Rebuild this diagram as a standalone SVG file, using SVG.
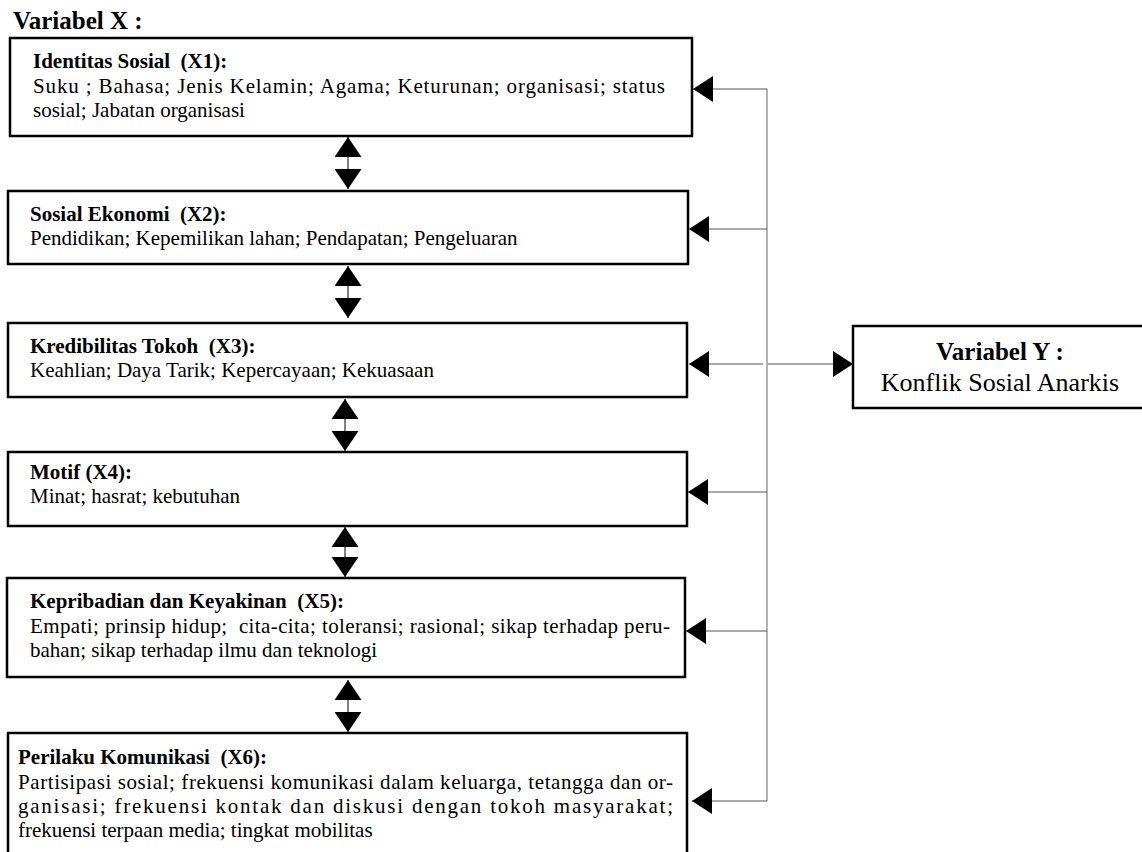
<svg xmlns="http://www.w3.org/2000/svg" width="1142" height="852" viewBox="0 0 1142 852">
<style>
text{font-family:"Liberation Serif","Times New Roman",serif;fill:#000}
.t{font-size:21px;font-weight:bold}
.b{font-size:21px}
.h{font-size:25px;font-weight:bold}
.box{fill:#fff;stroke:#000;stroke-width:2.5}
.hz{stroke:#555;stroke-width:1;fill:none}
.vt{stroke:#888;stroke-width:1.3;fill:none}
.dv{stroke:#000;stroke-width:1;fill:none}
</style>
<defs>
<marker id="ah" markerUnits="userSpaceOnUse" markerWidth="20" markerHeight="26" refX="20" refY="13" orient="auto" viewBox="0 0 20 26">
<path d="M0,0 L20,13 L0,26 Z" fill="#000"/>
</marker>
<marker id="dh" markerUnits="userSpaceOnUse" markerWidth="20" markerHeight="27" refX="20" refY="13.5" orient="auto-start-reverse" viewBox="0 0 20 27">
<path d="M0,0 L20,13.5 L0,27 Z" fill="#000"/>
</marker>
</defs>
<rect width="1142" height="852" fill="#fff"/>
<text class="h" x="13" y="29">Variabel X :</text>

<g id="x1">
<rect class="box" x="10" y="38" width="682" height="98"/>
<text class="t" x="33" y="68" xml:space="preserve">Identitas Sosial  (X1):</text>
<text class="b" x="33" y="93" textLength="632" lengthAdjust="spacing">Suku ; Bahasa; Jenis Kelamin; Agama; Keturunan; organisasi; status</text>
<text class="b" x="33" y="117">sosial; Jabatan organisasi</text>
</g>

<g id="x2">
<rect class="box" x="8" y="191" width="680" height="73"/>
<text class="t" x="30" y="221" xml:space="preserve">Sosial Ekonomi  (X2):</text>
<text class="b" x="30" y="245">Pendidikan; Kepemilikan lahan; Pendapatan; Pengeluaran</text>
</g>

<g id="x3">
<rect class="box" x="8" y="323" width="679" height="74"/>
<text class="t" x="30" y="353" xml:space="preserve">Kredibilitas Tokoh  (X3):</text>
<text class="b" x="30" y="377">Keahlian; Daya Tarik; Kepercayaan; Kekuasaan</text>
</g>

<g id="x4">
<rect class="box" x="8" y="452" width="679" height="74"/>
<text class="t" x="30" y="479">Motif (X4):</text>
<text class="b" x="30" y="503">Minat; hasrat; kebutuhan</text>
</g>

<g id="x5">
<rect class="box" x="7" y="578" width="678" height="99"/>
<text class="t" x="30" y="608" xml:space="preserve">Kepribadian dan Keyakinan  (X5):</text>
<text class="b" x="30" y="633" textLength="640" lengthAdjust="spacing" xml:space="preserve">Empati; prinsip hidup;  cita-cita; toleransi; rasional; sikap terhadap peru-</text>
<text class="b" x="30" y="657">bahan; sikap terhadap ilmu dan teknologi</text>
</g>

<g id="x6">
<rect class="box" x="8" y="733" width="679" height="130"/>
<text class="t" x="18" y="764" xml:space="preserve">Perilaku Komunikasi  (X6):</text>
<text class="b" x="18" y="789" textLength="655" lengthAdjust="spacing">Partisipasi sosial; frekuensi komunikasi dalam keluarga, tetangga dan or-</text>
<text class="b" x="18" y="813" textLength="655" lengthAdjust="spacing">ganisasi; frekuensi kontak dan diskusi dengan tokoh masyarakat;</text>
<text class="b" x="18" y="837">frekuensi terpaan media; tingkat mobilitas</text>
</g>

<g id="y">
<rect class="box" x="853" y="326" width="300" height="82"/>
<text class="h" x="1000" y="360" text-anchor="middle">Variabel Y :</text>
<text x="1000" y="391" text-anchor="middle" style="font-size:26px">Konflik Sosial Anarkis</text>
</g>

<g id="connectors">
<line class="vt" x1="767" y1="89" x2="767" y2="801"/>
<line class="hz" x1="767" y1="89" x2="693" y2="89" marker-end="url(#ah)"/>
<line class="hz" x1="767" y1="229" x2="689" y2="229" marker-end="url(#ah)"/>
<line class="hz" x1="763" y1="364" x2="689" y2="364" marker-end="url(#ah)"/>
<line class="hz" x1="768" y1="364" x2="853" y2="364" marker-end="url(#ah)"/>
<line class="hz" x1="767" y1="492" x2="688" y2="492" marker-end="url(#ah)"/>
<line class="hz" x1="767" y1="631" x2="686" y2="631" marker-end="url(#ah)"/>
<line class="hz" x1="767" y1="801" x2="692" y2="801" marker-end="url(#ah)"/>
<line class="dv" x1="348" y1="137" x2="348" y2="189" marker-start="url(#dh)" marker-end="url(#dh)"/>
<line class="dv" x1="348" y1="266" x2="348" y2="318" marker-start="url(#dh)" marker-end="url(#dh)"/>
<line class="dv" x1="345" y1="399" x2="345" y2="451" marker-start="url(#dh)" marker-end="url(#dh)"/>
<line class="dv" x1="345" y1="527" x2="345" y2="577" marker-start="url(#dh)" marker-end="url(#dh)"/>
<line class="dv" x1="348" y1="680" x2="348" y2="732" marker-start="url(#dh)" marker-end="url(#dh)"/>
</g>
</svg>
